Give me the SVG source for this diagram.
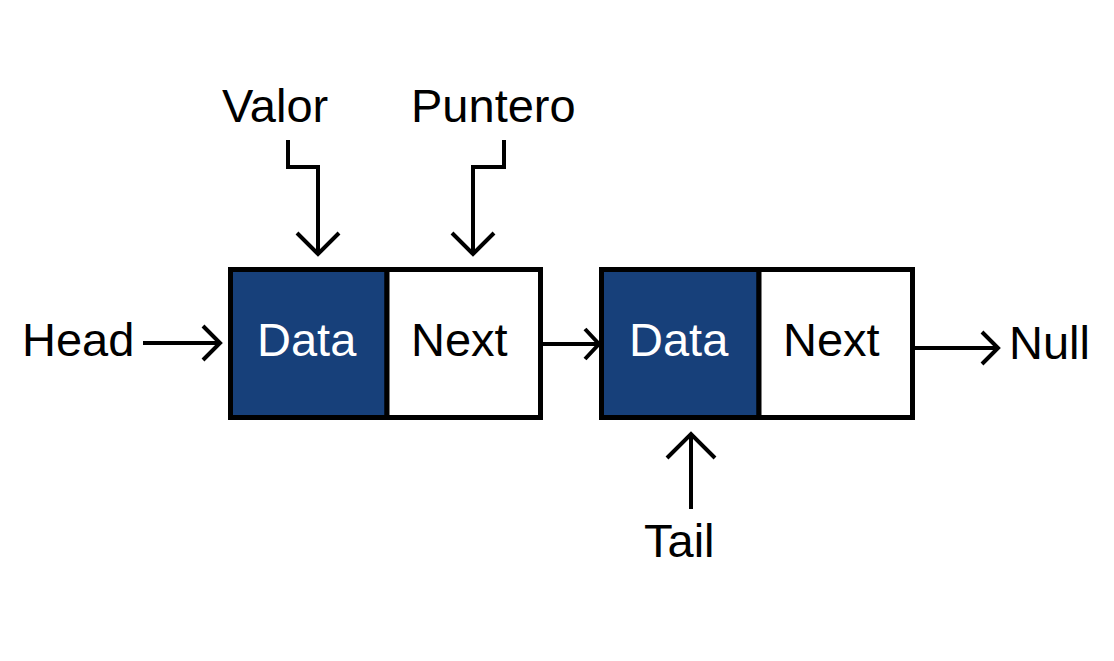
<svg xmlns="http://www.w3.org/2000/svg" width="1114" height="661" viewBox="0 0 1114 661">
<style>
.t{font-family:"Liberation Sans",Arial,sans-serif;font-size:47px;fill:#000}
.w{fill:#fff}
.box{stroke:#000;stroke-width:5}
.c{fill:none;stroke:#000;stroke-width:4;stroke-linejoin:miter}
</style>
<rect width="1114" height="661" fill="#fff"/>
<g id="labels">
<text class="t" x="222" y="122">Valor</text>
<text class="t" x="411" y="122">Puntero</text>
<text class="t" x="22" y="356">Head</text>
<text class="t" x="1009" y="359">Null</text>
<text class="t" x="644" y="557">Tail</text>
</g>
<g id="node1">
<rect class="box" x="230.5" y="269.5" width="156.5" height="148" fill="#17407a"/>
<rect class="box" x="387" y="269.5" width="153.5" height="148" fill="#fff"/>
<text class="t w" x="257" y="356">Data</text>
<text class="t" x="411" y="356">Next</text>
</g>
<g id="node2">
<rect class="box" x="601.5" y="269.5" width="157.5" height="148" fill="#17407a"/>
<rect class="box" x="759" y="269.5" width="153.5" height="148" fill="#fff"/>
<text class="t w" x="629" y="356">Data</text>
<text class="t" x="783" y="356">Next</text>
</g>
<g id="connectors">
<path class="c" d="M143,343 H220"/>
<polyline class="c" points="203,326 220,343 203,360"/>
<path class="c" d="M543,344 H599"/>
<polyline class="c" points="585,329 599,344 585,359"/>
<path class="c" d="M915,348 H998"/>
<polyline class="c" points="982,332 998,348 982,364"/>
<path class="c" d="M288,140 V167 H318 V254"/>
<polyline class="c" points="297,233 318,254 339,233"/>
<path class="c" d="M504,140 V167 H473 V254"/>
<polyline class="c" points="452,233 473,254 494,233"/>
<path class="c" d="M691,509 V434"/>
<polyline class="c" points="667,458 691,434 715,458"/>
</g>
</svg>
